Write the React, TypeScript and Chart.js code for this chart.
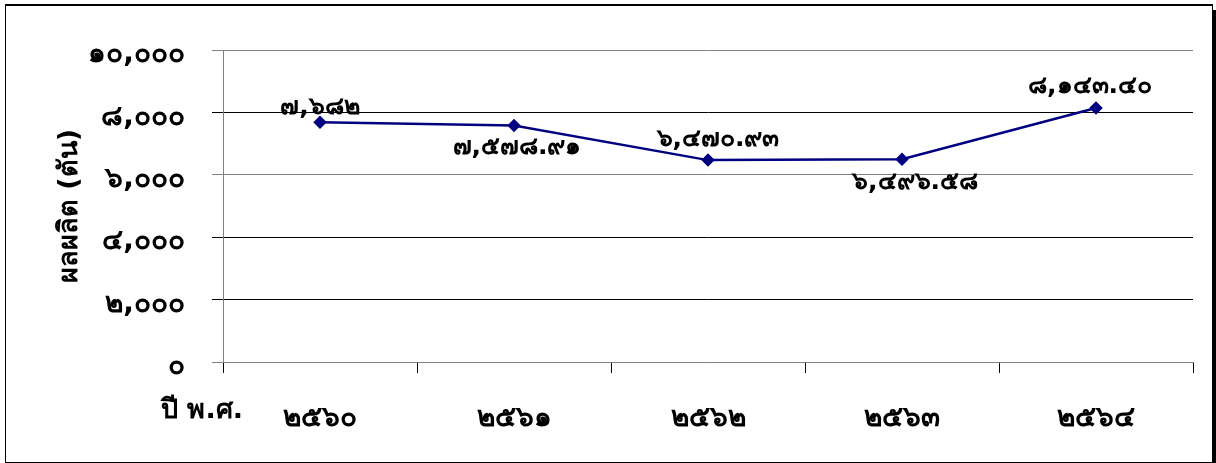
import React, { useEffect, useRef } from "react";
import { Chart, registerables } from "chart.js";

Chart.register(...registerables);

// ---- data ----
const categories = ["๒๕๖๐", "๒๕๖๑", "๒๕๖๒", "๒๕๖๓", "๒๕๖๔"];
const production = [7682, 7578.91, 6470.93, 6496.58, 8143.4];
const yTickValues = [0, 2000, 4000, 6000, 8000, 10000];
const yTitle = "ผลผลิต (ตัน)";
const xTitle = "ปี พ.ศ.";
const labelPlacement = ["above", "below", "above", "below", "above"];

const FONT = "Tahoma, 'DejaVu Sans', 'Noto Sans', sans-serif";
const thaiDigits = "๐๑๒๓๔๕๖๗๘๙";
const toThai = (s: string) => s.replace(/[0-9]/g, (d) => thaiDigits[Number(d)]);
const fmt = (v: number) =>
  toThai(
    v.toLocaleString("en-US", {
      minimumFractionDigits: Number.isInteger(v) ? 0 : 2,
      maximumFractionDigits: 2,
    })
  );

const labelDX = [0, 3, 10, 13, -6];
const labelDY = [-15, 22, -21, 23, -21];
const gridColors = ["#808080", "#000000", "#000000", "#808080", "#000000", "#808080"];

const labelPlugin = {
  id: "pointLabels",
  afterDatasetsDraw(chart: any) {
    const ctx = chart.ctx;
    const meta = chart.getDatasetMeta(0);
    ctx.save();
    ctx.font = `bold 25px ${FONT}`;
    ctx.fillStyle = "#000";
    ctx.textAlign = "center";
    ctx.textBaseline = "middle";
    meta.data.forEach((pt: any, i: number) => {
      const dy = labelDY[i] ?? (labelPlacement[i] === "above" ? -20 : 22);
      ctx.fillText(fmt(production[i]), pt.x + labelDX[i], pt.y + dy);
    });
    const area = chart.chartArea;
    ctx.textAlign = "right";
    ctx.font = `bold 27px ${FONT}`;
    ctx.fillText(xTitle, area.left + 20, area.bottom + 49);
    ctx.restore();
  },
};

export default function App() {
  const ref = useRef<HTMLCanvasElement>(null);
  useEffect(() => {
    if (!ref.current) return;
    const chart = new Chart(ref.current, {
      type: "line",
      data: {
        labels: categories,
        datasets: [
          {
            data: production,
            borderColor: "#000080",
            backgroundColor: "#000080",
            borderWidth: 2.5,
            pointStyle: "rectRot",
            pointRadius: 5,
            pointHoverRadius: 5,
            tension: 0,
          },
        ],
      },
      options: {
        animation: false,
        responsive: false,
        layout: { padding: { left: 0, top: 50, right: 23, bottom: 0 } },
        plugins: { legend: { display: false }, tooltip: { enabled: false } },
        scales: {
          x: {
            offset: true,
            grid: {
              offset: true,
              drawOnChartArea: false,
              drawTicks: true,
              tickLength: 11,
              color: "#000",
            },
            border: { color: "#808080", width: 1 },
            ticks: {
              color: "#000",
              padding: 29,
              font: { family: FONT, size: 28, weight: "bold" },
            },
            afterFit: (s: any) => {
              s.height = 101;
            },
          },
          y: {
            min: 0,
            max: 10000,
            afterBuildTicks: (s: any) => {
              s.ticks = yTickValues.map((v) => ({ value: v }));
            },
            grid: {
              color: (c: any) => gridColors[c.index] ?? "#808080",
              tickLength: 11,
              drawTicks: true,
            },
            border: { color: "#808080", width: 1 },
            ticks: {
              color: "#000",
              padding: 27,
              labelOffset: 5,
              font: { family: FONT, size: 28, weight: "bold" },
              callback: (v: any) => fmt(Number(v)),
            },
            title: {
              display: true,
              text: yTitle,
              color: "#000",
              padding: { top: 54, bottom: 0 },
              font: { family: FONT, size: 27, weight: "bold" },
            },
            afterFit: (s: any) => {
              s.width = 223;
            },
          },
        },
      },
      plugins: [labelPlugin],
    });
    return () => chart.destroy();
  }, []);

  return (
    <div style={{ position: "absolute", left: 0, top: 0, width: 1216, height: 463, background: "#fff" }}>
      <div
        style={{
          position: "absolute",
          left: 5,
          top: 4,
          width: 1208,
          height: 459,
          border: "1px solid #000",
          borderTopWidth: 2,
          boxSizing: "border-box",
        }}
      />
      <div style={{ position: "absolute", left: 1213, top: 10, width: 3, height: 453, background: "#000" }} />
      <canvas ref={ref} width={1216} height={463} style={{ position: "absolute", left: 0, top: 0 }} />
    </div>
  );
}
